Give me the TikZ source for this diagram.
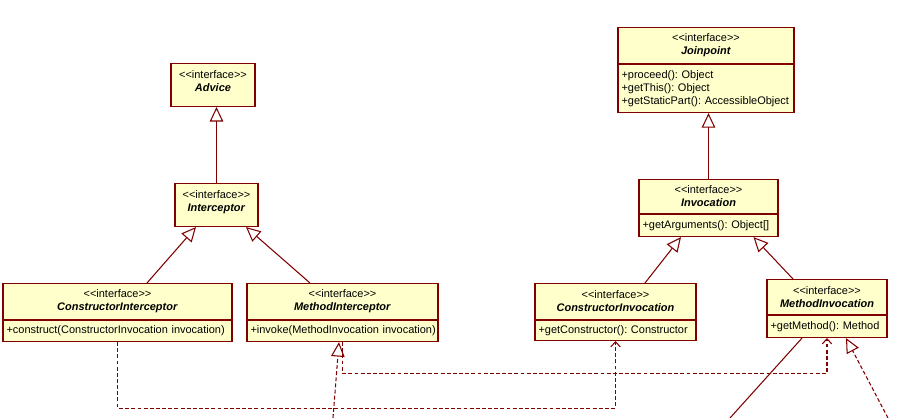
\documentclass[tikz,border=0pt]{standalone}
\usepackage{fontspec}
\usetikzlibrary{positioning,arrows.meta}
\newfontfamily\umlfont{Liberation Sans}
\frenchspacing
\definecolor{umlRed}{HTML}{800000}
\definecolor{umlFill}{HTML}{FFFFCC}
\tikzset{
  hdr/.style={rectangle, draw=umlRed, fill=umlFill, text=black,
    font=\umlfont\fontsize{6.25}{7.4}\selectfont, align=center, text width=#1,
    inner xsep=2pt, inner ysep=2pt, minimum height=0.72cm},
  hdronly/.style={hdr=#1, minimum height=0.86cm},
  body/.style={rectangle, draw=umlRed, fill=umlFill, text=black,
    font=\umlfont\fontsize{6.25}{7.4}\selectfont, align=left, text width=#1,
    inner xsep=2pt, inner ysep=2pt, minimum height=0.42cm},
  gen/.style={-{Triangle[open, length=2.9mm, width=2.7mm]}, umlRed},
  real/.style={gen, dash pattern=on 2.2pt off 1.3pt},
  dep/.style={-{Straight Barb[length=1mm, width=1.9mm]}, umlRed,
    dash pattern=on 2.2pt off 1.3pt},
  assoc/.style={umlRed},
}
\begin{document}
\begin{tikzpicture}[x=0.02cm, y=-0.02cm, line width=0.6pt]
\useasboundingbox (0,0) rectangle (921,418);

% ---------- Advice ----------
\node[hdronly=1.54cm, anchor=north] (advice-h) at (213,63)
  {<<interface>>\\ \textbf{\textit{Advice}}\\[-3.4pt]\mbox{}};

% ---------- Interceptor ----------
\node[hdronly=1.52cm, anchor=north] (intc-h) at (216.5,183)
  {<<interface>>\\ \textbf{\textit{Interceptor}}\\[-3.4pt]\mbox{}};

% ---------- ConstructorInterceptor ----------
\node[hdr=4.44cm, anchor=north] (ci-h) at (117.5,283)
  {<<interface>>\\ \textbf{\textit{ConstructorInterceptor}}};
\node[body=4.44cm, below=0pt of ci-h] (ci-b)
  {\mbox{+construct(ConstructorInvocation invocation)}};

% ---------- MethodInterceptor ----------
\node[hdr=3.68cm, anchor=north] (mi-h) at (342.5,283)
  {<<interface>>\\ \textbf{\textit{MethodInterceptor}}};
\node[body=3.68cm, below=0pt of mi-h] (mi-b)
  {\mbox{+invoke(MethodInvocation invocation)}};

% ---------- Joinpoint ----------
\node[hdr=3.38cm, anchor=north] (jp-h) at (706,27)
  {<<interface>>\\ \textbf{\textit{Joinpoint}}};
\node[body=3.38cm, below=0pt of jp-h, minimum height=0.96cm] (jp-b)
  {+proceed(): Object\\
   +getThis(): Object\\
   \mbox{+getStaticPart(): AccessibleObject}};

% ---------- Invocation ----------
\node[hdr=2.64cm, anchor=north, minimum height=0.68cm] (inv-h) at (708.5,179)
  {<<interface>>\\ \textbf{\textit{Invocation}}};
\node[body=2.64cm, below=0pt of inv-h, minimum height=0.44cm] (inv-b)
  {\mbox{+getArguments(): Object[]}};

% ---------- ConstructorInvocation ----------
\node[hdr=3.08cm, anchor=north] (cinv-h) at (615.5,283)
  {<<interface>>\\ \textbf{\textit{ConstructorInvocation}}};
\node[body=3.08cm, below=0pt of cinv-h, minimum height=0.40cm] (cinv-b)
  {\mbox{+getConstructor(): Constructor}};

% ---------- MethodInvocation ----------
\node[hdr=2.26cm, anchor=north, minimum height=0.70cm] (minv-h) at (827,279)
  {<<interface>>\\ \textbf{\textit{MethodInvocation}}};
\node[body=2.26cm, below=0pt of minv-h, minimum height=0.44cm] (minv-b)
  {\mbox{+getMethod(): Method}};

% ends of connectors leaving the picture
\coordinate (mi-impl) at (333,418);
\coordinate (minv-out) at (730,418);
\coordinate (minv-impl) at (888,418);

% ================= Generalizations =================
\draw[gen] (intc-h.north) -- (intc-h.north |- advice-h.south);
\draw[gen] ([xshift=0.59cm]ci-h.north) -- ([xshift=-0.41cm]intc-h.south);
\draw[gen] ([xshift=-0.65cm]mi-h.north) -- ([xshift=0.59cm]intc-h.south);
\draw[gen] (inv-h.north) -- (inv-h.north |- jp-b.south);
\draw[gen] ([xshift=0.59cm]cinv-h.north) -- ([xshift=-0.55cm]inv-b.south);
\draw[gen] ([xshift=-0.68cm]minv-h.north) -- ([xshift=0.90cm]inv-b.south);

% ================= Dependencies =================
\draw[dep] (ci-b.south) -- ++(0,66) -| (cinv-b.south);
\draw[dep] (mi-b.south) -- ++(0,31) -| (minv-b.south);

% ================= Links leaving the picture =================
\draw[real] (mi-impl) -- ([xshift=-0.07cm]mi-b.south);
\draw[assoc] ([xshift=-0.5cm]minv-b.south) -- (minv-out);
\draw[real] (minv-impl) -- ([xshift=0.38cm]minv-b.south);

\end{tikzpicture}
\end{document}
